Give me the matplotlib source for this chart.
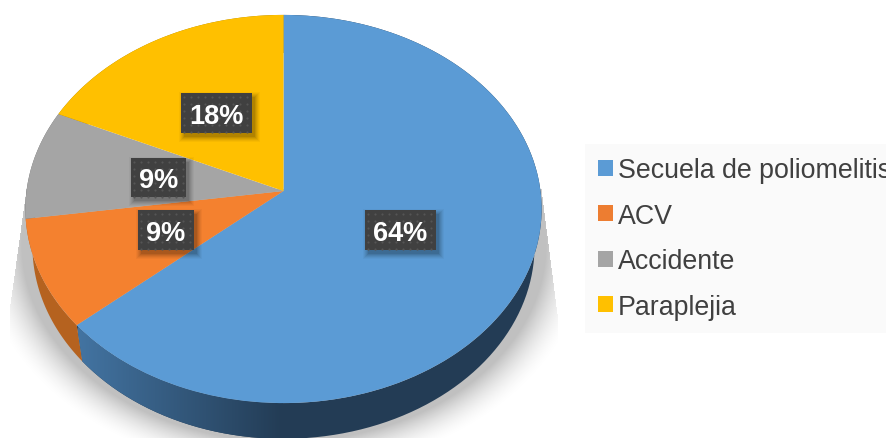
import numpy as np
import matplotlib
matplotlib.use("Agg")
import matplotlib.pyplot as plt
from matplotlib.transforms import Transform
from matplotlib.patches import Patch, Rectangle, Polygon

categories = ["Secuela de poliomelitis", "ACV", "Accidente", "Paraplejia"]
values = [7, 1, 1, 2]
top_colors = ["#5B9BD5", "#F4812F", "#A5A5A5", "#FFC000"]
legend_colors = ["#5B9BD5", "#ED7D31", "#A5A5A5", "#FFC000"]
wall_colors = [None, "#B5621F", "#6E6E6E", "#A88000"]
label_boxes = [(365, 211, 71, 40), (138, 211, 56, 40), (131, 159, 55, 39), (181, 94, 71, 40)]

W, H = 887, 439
CX = 283.5
C = 0.0928


class Persp(Transform):
    input_dims = output_dims = 2
    is_separable = False
    has_inverse = False

    def __init__(self, R=257.0, a=-174.6, b=192.0):
        super().__init__()
        self.R, self.a, self.b = R, a, b

    def transform_non_affine(self, v):
        v = np.asarray(v, float)
        d = 1 + C * v[:, 1]
        return np.column_stack([CX + self.R * v[:, 0] / d, (self.a * v[:, 1] + self.b) / d])


fig = plt.figure(figsize=(W / 100, H / 100), dpi=100, facecolor="white")
ax = fig.add_axes([0, 0, 1, 1])
ax.axis("off")

top = Persp()
bottom = Persp(R=250.0, a=-170.0, b=229.0)

# soft ground shadow
yy, xx = np.mgrid[0:H, 0:W]
r = np.sqrt(((xx - 283.5) / 262) ** 2 + ((yy - 245) / 197) ** 2)
d = (r - 1) * 230
alpha = 0.25 * np.clip(1 - d / 40, 0, 1) ** 1.8
xl = np.clip(26 - 16 * (yy - 190) / 115, 10, None)
xr = np.clip(541 + 16 * (yy - 190) / 125, None, 557)
alpha[(xx < xl) | (xx > xr) | (yy < 190)] = 0
shadow = np.zeros((H, W, 4))
shadow[..., 3] = alpha
ax.imshow(shadow, extent=(0, W, H, 0), aspect="auto", zorder=1, interpolation="bilinear")

# side walls, from the cumulative shares
fractions = np.asarray(values, float) / sum(values)
edges = np.concatenate([[0], np.cumsum(fractions)]) * 2 * np.pi
for i in range(len(values)):
    t = np.linspace(edges[i], edges[i + 1], 120)
    circle = np.column_stack([np.sin(t), np.cos(t)])
    outline = np.vstack([top.transform(circle), bottom.transform(circle)[::-1]])
    if wall_colors[i] is None:
        poly = Polygon(outline, closed=True, fc="#233C55", ec="none", zorder=2)
        ax.add_patch(poly)
        ramp = np.linspace(0, 1, 256).reshape(1, -1)
        c0, c1 = np.array([0x43, 0x74, 0xA2]) / 255, np.array([0x23, 0x3C, 0x55]) / 255
        img = (c0[None, None, :] * (1 - ramp[..., None]) + c1[None, None, :] * ramp[..., None])
        im = ax.imshow(img, extent=(78, 283, H + 5, 0), aspect="auto", zorder=2.1)
        im.set_clip_path(poly)
    else:
        ax.add_patch(Polygon(outline, closed=True, fc=wall_colors[i], ec="none", zorder=2))

# top face: a real pie, projected through the perspective transform
wedges, _ = ax.pie(values, colors=top_colors, startangle=90, counterclock=False)
for w in wedges:
    w.set_transform(top + ax.transData)
    w.set_zorder(3)
    w.set_edgecolor("none")

ax.set_aspect("auto")
ax.set_xlim(0, W)
ax.set_ylim(H, 0)

# data labels
total = sum(values)
for v, (x, y, bw, bh) in zip(values, label_boxes):
    for k, a in zip(range(6, 0, -1), [0.03, 0.04, 0.05, 0.06, 0.07, 0.09]):
        ax.add_patch(Rectangle((x + 3 - k + 1, y + 4 - k + 1), bw + 2 * (k - 1), bh + 2 * (k - 1),
                               fc="black", alpha=a, ec="none", zorder=4))
    ax.add_patch(Rectangle((x, y), bw, bh, fc="#404040", ec="none", zorder=5))
    gx, gy = np.meshgrid(np.arange(x + 3.5, x + bw, 7), np.arange(y + 3.5, y + bh, 7))
    ax.plot(gx.ravel(), gy.ravel(), ls="none", marker="o", ms=1.6, mew=0, color="#555555", zorder=6)
    ax.text(x + bw / 2, y + bh / 2 + 3, f"{v / total:.0%}", color="white", ha="center", va="center",
            family="Liberation Sans", weight="bold", fontsize=19.5, zorder=7)

# legend
handles = [Patch(fc=c, ec="none") for c in legend_colors]
leg = ax.legend(handles, categories, loc="upper left", bbox_to_anchor=(585 / W, 1 - 145 / H),
                bbox_transform=fig.transFigure, borderaxespad=0, frameon=True, fancybox=False,
                facecolor="#FAFAFA", edgecolor="none", framealpha=1,
                prop={"family": "Liberation Sans", "size": 19.3}, labelcolor="#404040",
                handlelength=0.53, handleheight=0.53, handletextpad=0.19,
                labelspacing=0.725, borderpad=0.5)
leg.set_zorder(8)
leg.set_in_layout(False)

fig.savefig("out.png", dpi=100)
